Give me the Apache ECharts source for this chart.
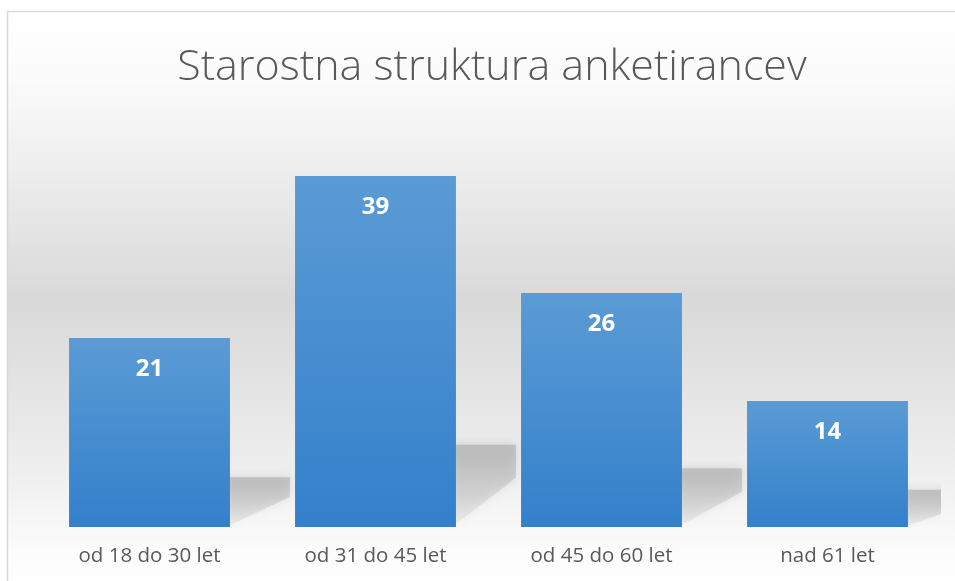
<!DOCTYPE html>
<html>
<head>
<meta charset="utf-8">
<script src="https://cdn.jsdelivr.net/npm/echarts@6/dist/echarts.min.js"></script>
<style>
  html, body { margin: 0; padding: 0; background: #fff; }
  #chart { width: 955px; height: 581px; }
</style>
</head>
<body>
<div id="chart"></div>
<script>
const categories = ['od 18 do 30 let', 'od 31 do 45 let', 'od 45 do 60 let', 'nad 61 let']
const values = [21, 39, 26, 14]
const titleText = 'Starostna struktura anketirancev'

const myChart = echarts.init(document.getElementById('chart'))

// perspective shadow lying on the floor behind each bar
function renderShadow(params, api) {
  const idx = api.value(0)
  const val = api.value(1)
  const bottom = api.coord([idx, 0])
  const top = api.coord([idx, val])
  const halfW = api.size([1, 0])[0] * 0.712 / 2
  const xr = bottom[0] + halfW
  const yb = bottom[1]
  const h = yb - top[1]
  const s = h * 0.2 + 12
  const w = 60
  return {
    type: 'polygon',
    shape: {
      points: [[xr - 4, yb], [xr - 4, yb - s], [xr + w, yb - s], [xr + w, yb - s + s * 0.4]]
    },
    style: {
      fill: {
        type: 'linear',
        x: 0, y: 0, x2: 0, y2: 1,
        colorStops: [
          { offset: 0, color: 'rgba(165,165,165,0.55)' },
          { offset: 1, color: 'rgba(165,165,165,0.1)' }
        ]
      },
      shadowBlur: 10,
      shadowColor: 'rgba(150,150,150,0.6)'
    }
  }
}

const options = {
  animation: false,
  graphic: [{
    type: 'rect',
    z: -10,
    shape: { x: 7.5, y: 11.5, width: 960, height: 580 },
    style: {
      stroke: '#d9d9d9',
      lineWidth: 1.5,
      fill: {
        type: 'linear',
        x: 0, y: 0, x2: 0, y2: 1,
        colorStops: [
          { offset: 0, color: '#ffffff' },
          { offset: 0.12, color: '#fbfbfb' },
          { offset: 0.5, color: '#d9d9d9' },
          { offset: 0.8, color: '#efefef' },
          { offset: 0.93, color: '#fcfcfc' },
          { offset: 1, color: '#ffffff' }
        ]
      }
    }
  }],
  title: {
    text: titleText,
    left: 487,
    textAlign: 'center',
    top: 41,
    textStyle: {
      fontFamily: 'Open Sans',
      fontWeight: 300,
      fontSize: 43,
      color: '#595959'
    }
  },
  grid: {
    left: 36.5,
    right: 14.5,
    top: 122,
    bottom: 54
  },
  xAxis: {
    type: 'category',
    data: categories,
    axisLine: { show: false },
    axisTick: { show: false },
    axisLabel: {
      margin: 19,
      fontFamily: 'Open Sans',
      fontSize: 20.5,
      color: '#595959'
    }
  },
  yAxis: {
    type: 'value',
    min: 0,
    max: 45,
    show: false
  },
  series: [
    {
      type: 'custom',
      renderItem: renderShadow,
      data: values.map((v, i) => [i, v]),
      clip: true,
      z: 1,
      silent: true
    },
    {
      type: 'bar',
      data: values,
      barCategoryGap: '28.8%',
      z: 3,
      itemStyle: {
        color: {
          type: 'linear',
          x: 0, y: 0, x2: 0, y2: 1,
          colorStops: [
            { offset: 0, color: '#5b9bd5' },
            { offset: 1, color: '#3380cb' }
          ]
        }
      },
      label: {
        show: true,
        position: 'insideTop',
        distance: 19,
        fontFamily: 'Open Sans',
        fontWeight: 'bold',
        fontSize: 24,
        color: '#ffffff'
      }
    }
  ]
}

myChart.setOption(options)
window.addEventListener('resize', () => {
  myChart.resize()
})
</script>
</body>
</html>
